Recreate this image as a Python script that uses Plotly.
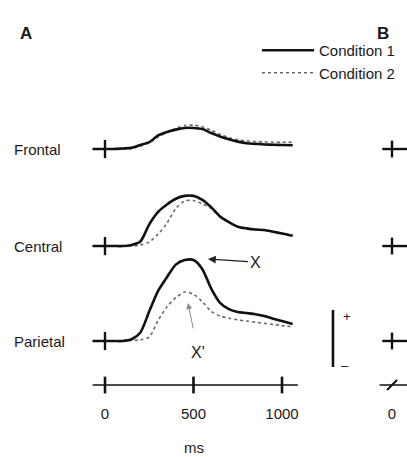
import plotly.graph_objects as go

# ---------------- data ----------------
time_ms = [-70, 0, 50, 100, 150, 200, 250, 300, 350, 400, 450, 500, 550,
           600, 650, 700, 750, 800, 850, 900, 950, 1000, 1060]

channels = ["Frontal", "Central", "Parietal"]

frontal_c1 = [0, 0, 0, 0.05, 0.1, 0.35, 0.6, 1.2, 1.5, 1.7, 1.85, 1.85, 1.75,
              1.4, 1.1, 0.85, 0.65, 0.5, 0.45, 0.4, 0.38, 0.35, 0.33]
frontal_c2 = [0, 0, 0, 0.0, 0.05, 0.25, 0.55, 1.05, 1.45, 1.8, 2.05, 2.1, 1.95,
              1.65, 1.3, 1.0, 0.8, 0.7, 0.65, 0.62, 0.6, 0.6, 0.58]
central_c1 = [0, 0, 0, 0, 0.1, 0.4, 1.9, 3.0, 3.65, 4.15, 4.4, 4.4, 4.05,
              3.4, 2.6, 2.1, 1.7, 1.55, 1.45, 1.4, 1.25, 1.1, 0.9]
central_c2 = [0, 0, 0, 0, 0.0, 0.1, 0.35, 1.05, 2.0, 3.3, 3.95, 4.0, 3.7,
              3.3, 2.55, 2.1, 1.7, 1.55, 1.45, 1.4, 1.25, 1.1, 0.95]
parietal_c1 = [0, 0, 0, 0, 0.15, 0.75, 2.6, 4.4, 5.6, 6.7, 7.1, 7.1, 6.3,
               4.6, 3.35, 2.8, 2.55, 2.45, 2.35, 2.2, 1.95, 1.75, 1.5]
parietal_c2 = [0, 0, 0, 0, 0.05, 0.1, 0.35, 1.8, 3.0, 3.8, 4.3, 4.1, 3.45,
               2.6, 2.2, 2.0, 1.85, 1.75, 1.65, 1.55, 1.45, 1.35, 1.25]

cond1 = {"Frontal": frontal_c1, "Central": central_c1, "Parietal": parietal_c1}
cond2 = {"Frontal": frontal_c2, "Central": central_c2, "Parietal": parietal_c2}

x_ticks = [0, 500, 1000]
x_tick_labels = ["0", "500", "1000"]
panel_b_ticks = [0]
panel_b_tick_labels = ["0"]
scale_bar_uv = 5  # length of the calibration bar

# ---------------- layout constants ----------------
W, H = 407, 457
offsets = {"Frontal": 16.84, "Central": 8.33, "Parietal": 0.0}
axis_y = -3.86
font_family = "Liberation Sans, Arial, Helvetica, sans-serif"
txt = "#1a1a1a"
FS = 15

fig = go.Figure()

for i, ch in enumerate(channels):
    off = offsets[ch]
    show = ch == "Parietal"
    fig.add_trace(go.Scatter(
        x=time_ms, y=[v + off for v in cond2[ch]], mode="lines",
        line=dict(color="#666666", width=1.6, dash="dot", shape="spline", smoothing=0.7),
        name="Condition 2", showlegend=show, legendrank=2))
    fig.add_trace(go.Scatter(
        x=time_ms, y=[v + off for v in cond1[ch]], mode="lines",
        line=dict(color="#111111", width=2.6, shape="spline", smoothing=0.7),
        name="Condition 1", showlegend=show, legendrank=1))
    # onset cross (panel A)
    fig.add_trace(go.Scatter(
        x=[0], y=[off], mode="markers",
        marker=dict(symbol="line-ns", size=13, line=dict(width=2.4, color="#111111")),
        showlegend=False, hoverinfo="skip"))
    # panel B (cut off) baseline and cross
    fig.add_trace(go.Scatter(
        x=[-55, 0, 90], y=[off, off, off], mode="lines", xaxis="x2",
        line=dict(color="#111111", width=2.4), showlegend=False, hoverinfo="skip"))
    fig.add_trace(go.Scatter(
        x=[0], y=[off], mode="markers", xaxis="x2",
        marker=dict(symbol="line-ns", size=12, line=dict(width=2.4, color="#111111")),
        showlegend=False, hoverinfo="skip"))
    fig.add_annotation(x=12 / W, xref="paper", y=off, yref="y", text=ch,
                       showarrow=False, xanchor="left", yanchor="middle",
                       font=dict(size=FS, color=txt, family=font_family))

# time axis (panel A)
fig.add_trace(go.Scatter(x=[-70, 1090], y=[axis_y, axis_y], mode="lines",
                         line=dict(color="#111111", width=1.5),
                         showlegend=False, hoverinfo="skip"))
fig.add_trace(go.Scatter(x=x_ticks, y=[axis_y] * len(x_ticks), mode="markers",
                         marker=dict(symbol="line-ns", size=12,
                                     line=dict(width=2.6, color="#111111")),
                         showlegend=False, hoverinfo="skip"))
# time axis (panel B)
fig.add_trace(go.Scatter(x=[-70, 90], y=[axis_y, axis_y], mode="lines", xaxis="x2",
                         line=dict(color="#111111", width=1.5),
                         showlegend=False, hoverinfo="skip"))
fig.add_trace(go.Scatter(x=panel_b_ticks, y=[axis_y], mode="markers", xaxis="x2",
                         marker=dict(symbol="line-ne", size=10,
                                     line=dict(width=2.0, color="#111111")),
                         showlegend=False, hoverinfo="skip"))

# calibration bar
bar_x = 1288
fig.add_trace(go.Scatter(x=[bar_x, bar_x], y=[-2.28, -2.28 + scale_bar_uv], mode="lines",
                         line=dict(color="#111111", width=2.6),
                         showlegend=False, hoverinfo="skip"))
fig.add_annotation(x=bar_x, y=-2.28 + scale_bar_uv, xref="x", yref="y", text="+",
                   showarrow=False, xshift=14, yshift=-7,
                   font=dict(size=13, color=txt, family=font_family))
fig.add_annotation(x=bar_x, y=-2.28, xref="x", yref="y", text="–",
                   showarrow=False, xshift=12, yshift=1,
                   font=dict(size=13, color=txt, family=font_family))

# component labels
fig.add_annotation(x=582, y=7.19, xref="x", yref="y", text="X", showarrow=True,
                   ax=47, ay=3, arrowhead=2, arrowsize=1.2, arrowwidth=1.3,
                   arrowcolor="#222222",
                   font=dict(size=16, color=txt, family=font_family))
fig.add_annotation(x=469, y=3.33, xref="x", yref="y", text="X'", showarrow=True,
                   ax=10, ay=49, arrowhead=2, arrowsize=1.2, arrowwidth=1.0,
                   arrowcolor="#888888", startstandoff=14,
                   font=dict(size=16, color=txt, family=font_family))

# panel letters and unit
fig.add_annotation(x=18 / W, y=1 - 22 / H, xref="paper", yref="paper", text="<b>A</b>",
                   showarrow=False, font=dict(size=17, color=txt, family=font_family))
fig.add_annotation(x=391 / W, y=1 - 22 / H, xref="paper", yref="paper", text="<b>B</b>",
                   showarrow=False, font=dict(size=17, color=txt, family=font_family))
fig.add_annotation(x=500, y=0, xref="x", yref="paper", yanchor="middle",
                   yshift=H - 447, text="ms", showarrow=False,
                   font=dict(size=FS, color=txt, family=font_family))

px_per_ms = 0.177
xr = [-105 / px_per_ms, (W - 105) / px_per_ms]
xr2 = [-392 / px_per_ms, (W - 392) / px_per_ms]
px_per_uv = 11.4
yr = [-(H - 341) / px_per_uv, 341 / px_per_uv]
axis_pos = (H - 403) / H

fig.update_layout(
    width=W, height=H,
    margin=dict(l=0, r=0, t=0, b=0),
    paper_bgcolor="white", plot_bgcolor="white",
    font=dict(family=font_family, color=txt, size=FS),
    xaxis=dict(range=xr, domain=[0, 1], anchor="free", position=axis_pos,
               tickvals=x_ticks, ticktext=x_tick_labels, ticks="",
               showline=False, showgrid=False, zeroline=False,
               tickfont=dict(size=FS, color=txt)),
    xaxis2=dict(range=xr2, domain=[0, 1], overlaying="x", anchor="free",
                position=axis_pos, tickvals=panel_b_ticks, ticktext=panel_b_tick_labels,
                ticks="", showline=False, showgrid=False, zeroline=False,
                side="bottom", tickfont=dict(size=FS, color=txt)),
    yaxis=dict(range=yr, visible=False, showgrid=False, zeroline=False),
    legend=dict(x=257 / W, y=1 - 34 / H, xanchor="left", yanchor="top",
                font=dict(size=FS, color=txt), bgcolor="rgba(0,0,0,0)",
                tracegroupgap=0, itemwidth=52),
    showlegend=True,
)

fig.write_html("out.html", config={"displayModeBar": False},
               post_script="document.body.style.margin='0';")
